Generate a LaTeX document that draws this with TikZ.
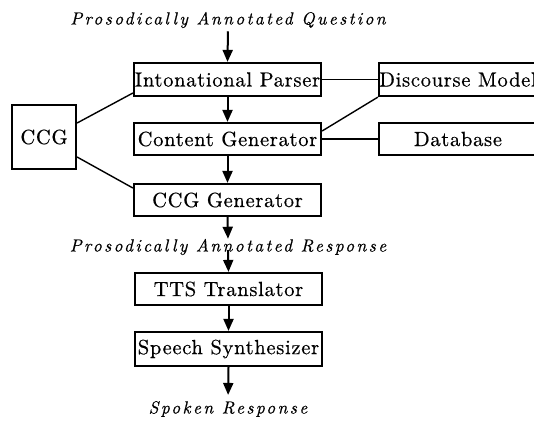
\documentclass[tikz,border=0pt]{standalone}
\usepackage{fontspec}
\usetikzlibrary{arrows.meta}

% Latin Modern loaded through fontspec so that tracking can be applied
\setmainfont{lmroman10-regular.otf}[ItalicFont=lmroman10-italic.otf]
\newfontfamily\modfamily{lmroman10-regular.otf}[LetterSpace=3.5, FakeBold=0.5]
\newfontfamily\datafamily{lmroman10-italic.otf}[LetterSpace=13.4, FakeBold=0.5]

% Fonts for the module boxes and for the spoken/annotated data labels
\newcommand\modfont{\modfamily\fontsize{20.5}{24}\selectfont}
\newcommand\datafont{\datafamily\fontsize{17.5}{20}\selectfont}

\tikzset{
  module/.style={draw, line width=2.2pt, inner sep=0pt, minimum height=33pt, font=\modfont},
  link/.style={line width=1.4pt},
  flow/.style={line width=2pt, -{Triangle[length=12pt,width=10pt]}},
  data/.style={inner sep=0pt, font=\datafont},
}

\begin{document}
\begin{tikzpicture}[x=1pt,y=-1pt]
  \useasboundingbox (0,0) rectangle (534,424);

  % Main pipeline
  \node[data] (q) at (228,20) {Prosodically Annotated Question};
  \node[module, minimum width=187pt] (ip) at (227.5,79.5) {Intonational Parser};
  \node[module, minimum width=187pt, minimum height=32pt] (cg) at (227.5,139) {Content Generator};
  \node[module, minimum width=187pt, minimum height=32pt] (gen) at (227.5,200) {CCG Generator};
  \node[data] (r) at (228,247) {Prosodically Annotated Response};
  \node[module, minimum width=187pt, minimum height=32pt] (tts) at (228.5,289) {TTS Translator};
  \node[module, minimum width=187pt, minimum height=34pt] (ss) at (228.5,349) {Speech Synthesizer};
  \node[data] (sp) at (228,409) {Spoken Response};

  % Side resources
  \node[module, minimum width=64pt, minimum height=64pt] (ccg) at (44,137) {CCG};
  \node[module, minimum width=158pt] (dm) at (458,79.5) {Discourse Model};
  \node[module, minimum width=158pt, minimum height=32pt] (db) at (458,139) {Database};

  % Data flow
  \draw[flow, shorten <=3pt] (q.south) -- (ip.north);
  \draw[flow] (ip.south) -- (cg.north);
  \draw[flow] (cg.south) -- (gen.north);
  \draw[flow] (gen.south) -- (r.north);
  \draw[flow] ([yshift=-3pt]r.center) -- (tts.north);
  \draw[flow] (tts.south) -- (ss.north);
  \draw[flow, shorten >=6pt] (ss.south) -- (sp.north);

  % Links to resources
  \draw[link] (ip.east) -- (dm.west);
  \draw[link] (cg.east) -- (db.west);
  \draw[link] (dm.south west) -- ([yshift=8pt]cg.east);
  \draw[link] ([yshift=14pt]ccg.east) -- ([yshift=-13.5pt]ip.west);
  \draw[link] ([yshift=-20pt]ccg.east) -- ([yshift=12pt]gen.west);
\end{tikzpicture}
\end{document}
